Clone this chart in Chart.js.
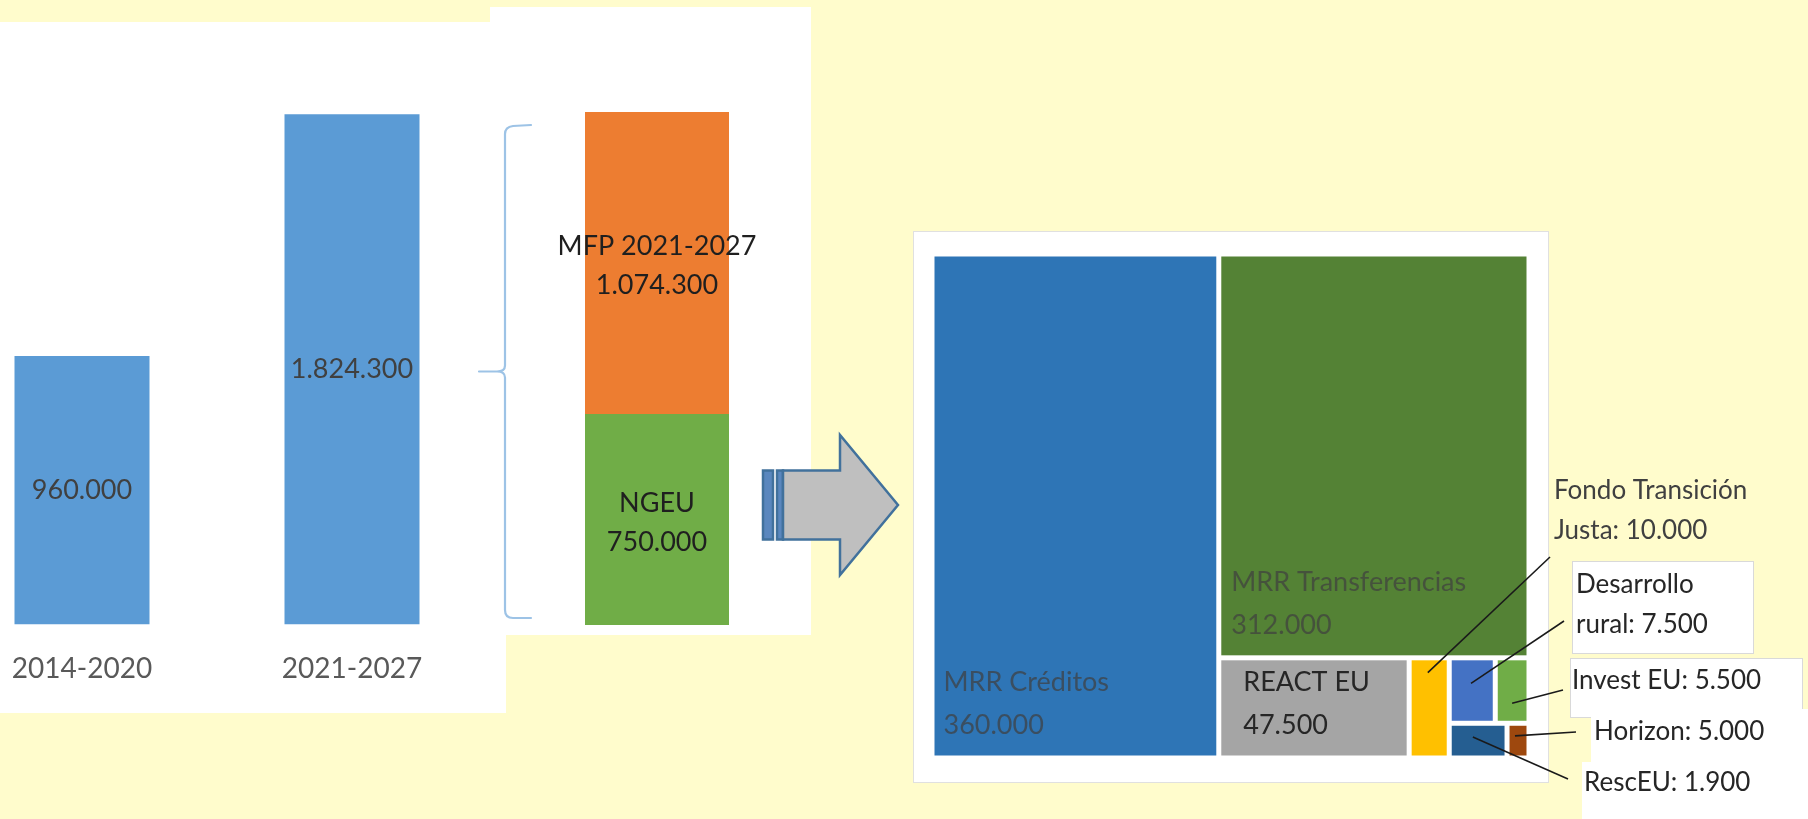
<!DOCTYPE html>
<html>
<head>
<meta charset="utf-8">
<script src="https://cdn.jsdelivr.net/npm/chart.js@4.4.0/dist/chart.umd.min.js"></script>
<style>
  html, body { margin: 0; padding: 0; }
  body { width: 1808px; height: 819px; background: #FFFCCC; position: relative; overflow: hidden; }
  .panel { position: absolute; background: #fff; }
  canvas { position: absolute; }
</style>
</head>
<body>
<div class="panel" style="left:0; top:22px; width:506px; height:691px"></div>
<div class="panel" style="left:490px; top:7px; width:321px; height:628px"></div>
<div class="panel" style="left:913px; top:231px; width:634px; height:550px; border:1px solid #e0e0e0"></div>

<canvas id="periods" width="540" height="700" style="left:-53px; top:22px"></canvas>
<canvas id="split" width="440" height="640" style="left:470px; top:0"></canvas>
<canvas id="ngeu" width="908" height="599" style="left:900px; top:220px"></canvas>

<script>
// totals per budget period
const periodLabels = ['2014-2020', '2021-2027'];
const periodTotals = [960000, 1824300];

// 2021-2027 split
const splitLabels = ['2021-2027'];
const ngeuTotal = [750000];
const mfpTotal = [1074300];

// NGEU breakdown (treemap)
const ngeuParts = ['MRR Créditos', 'MRR Transferencias', 'REACT EU', 'Fondo Transición Justa',
                   'Desarrollo rural', 'Invest EU', 'Horizon', 'RescEU'];
const ngeuPartValues = [360000, 312000, 47500, 10000, 7500, 5500, 5000, 1900];
const ngeuPartColors = ['#2E75B6', '#548235', '#A5A5A5', '#FFC000', '#4472C4', '#70AD47', '#255E91', '#9E480E'];

// how the treemap nests its cells (row = side by side, col = stacked)
const treeShape = ['row', 0, ['col', 1, ['row', 2, 3, ['col', ['row', 4, 5], ['row', 6, 7]]]]];

const fmt = v => String(v).replace(/\B(?=(\d{3})+(?!\d))/g, '.');

function nodeTotal(node) {
    if (typeof node === 'number') return ngeuPartValues[node];
    return node.slice(1).reduce((s, n) => s + nodeTotal(n), 0);
}

function layoutTree(node, x0, y0, x1, y1, out) {
    if (typeof node === 'number') { out[node] = { x0, y0, x1, y1 }; return out; }
    const isRow = node[0] === 'row';
    const sum = nodeTotal(node);
    let pos = isRow ? x0 : y0;
    node.slice(1).forEach(k => {
        const span = nodeTotal(k) / sum * (isRow ? x1 - x0 : y1 - y0);
        if (isRow) layoutTree(k, pos, y0, pos + span, y1, out);
        else layoutTree(k, x0, pos, x1, pos + span, out);
        pos += span;
    });
    return out;
}

const cells = layoutTree(treeShape, 0, 0, 1, 1, []);

// labels written inside the big cells, callouts for the small ones
const insideIndent = [9, 10, 22];
const callouts = [
    { part: 3, to: 3, wrap: 2, tx: 25, ty: 237, from: [21, 303], at: [0.46, 0.13], color: '#404040' },
    { part: 4, to: 4, wrap: 1, tx: 47, ty: 331, from: [35, 367], at: [0.47, 0.38], color: '#262626', box: [43, 307, 224, 399], edge: true },
    { part: 5, to: 5, tx: 43, ty: 427, from: [34, 436], at: [0.5, 0.71], color: '#262626', box: [41, 404, 273, 463], edge: true },
    { part: 6, to: 7, tx: 65, ty: 478, from: [47, 478], at: [0.32, 0.34], color: '#262626', box: [62, 455, 285, 508] },
    { part: 7, to: 6, tx: 55, ty: 529, from: [39, 525], at: [0.4, 0.38], color: '#262626', box: [53, 508, 285, 570] }
];

function drawLines(ctx, lines, x, y, gap) {
    const y0 = y - (lines.length - 1) * gap / 2;
    lines.forEach((t, k) => ctx.fillText(t, x, y0 + k * gap));
}

const periodValueLabels = {
    id: 'periodValueLabels',
    afterDatasetsDraw(chart) {
        const ctx = chart.ctx;
        ctx.save();
        ctx.font = '27px Lato';
        ctx.fillStyle = '#404040';
        ctx.textAlign = 'center';
        ctx.textBaseline = 'middle';
        chart.getDatasetMeta(0).data.forEach((bar, i) => {
            ctx.fillText(fmt(chart.data.datasets[0].data[i]), bar.x, (bar.y + bar.base) / 2);
        });
        ctx.restore();
    }
};

const splitDecor = {
    id: 'splitDecor',
    afterDatasetsDraw(chart) {
        const ctx = chart.ctx;
        const y = chart.scales.y;
        ctx.save();
        ctx.font = '27px Lato';
        ctx.fillStyle = '#1f1f1f';
        ctx.textAlign = 'center';
        ctx.textBaseline = 'middle';
        chart.data.datasets.forEach((ds, di) => {
            chart.getDatasetMeta(di).data.forEach((bar, i) => {
                drawLines(ctx, [ds.label, fmt(ds.data[i])], bar.x, (bar.y + bar.base) / 2 + 3, 39);
            });
        });

        // brace grouping the split back to the 2021-2027 total
        const bar = chart.getDatasetMeta(0).data[0];
        const left = bar.x - bar.width / 2, right = bar.x + bar.width / 2;
        const top = y.getPixelForValue(ngeuTotal[0] + mfpTotal[0]) + 13;
        const bottom = y.getPixelForValue(0) - 7;
        const mid = (top + bottom) / 2;
        const xv = left - 80, xh = left - 54, xt = left - 106;
        ctx.strokeStyle = '#9DC3E6';
        ctx.lineWidth = 2.2;
        ctx.lineCap = 'round';
        ctx.beginPath();
        ctx.moveTo(xh, top);
        ctx.lineTo(xv + 8, top + 1);
        ctx.quadraticCurveTo(xv, top + 2, xv, top + 9);
        ctx.lineTo(xv, mid - 6);
        ctx.quadraticCurveTo(xv, mid, xv - 8, mid);
        ctx.lineTo(xt, mid);
        ctx.moveTo(xv - 8, mid);
        ctx.quadraticCurveTo(xv, mid, xv, mid + 6);
        ctx.lineTo(xv, bottom - 8);
        ctx.quadraticCurveTo(xv, bottom, xv + 8, bottom);
        ctx.lineTo(xh, bottom);
        ctx.stroke();

        // striped arrow pointing to the NGEU breakdown
        const cy = y.getPixelForValue(0) - 120;
        const a = right + 34;
        ctx.lineWidth = 2.5;
        ctx.lineCap = 'butt';
        ctx.lineJoin = 'miter';
        ctx.strokeStyle = '#41719C';
        ctx.fillStyle = '#5A87BE';
        ctx.fillRect(a, cy - 34.5, 10, 69);
        ctx.strokeRect(a, cy - 34.5, 10, 69);
        ctx.fillRect(a + 14, cy - 34.5, 6, 69);
        ctx.strokeRect(a + 14, cy - 34.5, 6, 69);
        ctx.beginPath();
        ctx.moveTo(a + 20, cy - 34.5);
        ctx.lineTo(a + 77, cy - 34.5);
        ctx.lineTo(a + 77, cy - 70);
        ctx.lineTo(a + 135, cy);
        ctx.lineTo(a + 77, cy + 70);
        ctx.lineTo(a + 77, cy + 34.5);
        ctx.lineTo(a + 20, cy + 34.5);
        ctx.closePath();
        ctx.fillStyle = '#BFBFBF';
        ctx.fill();
        ctx.stroke();
        ctx.restore();
    }
};

const treemapCells = {
    id: 'treemapCells',
    afterDatasetsDraw(chart) {
        const ctx = chart.ctx;
        const { x, y } = chart.scales;
        const area = chart.chartArea;
        const rects = cells.map(c => ({
            l: x.getPixelForValue(c.x0) + 2.5, r: x.getPixelForValue(c.x1) - 2.5,
            t: y.getPixelForValue(c.y0) + 2.5, b: y.getPixelForValue(c.y1) - 2.5
        }));
        ctx.save();
        rects.forEach((rc, i) => {
            ctx.fillStyle = ngeuPartColors[i];
            ctx.fillRect(rc.l, rc.t, rc.r - rc.l, rc.b - rc.t);
        });

        ctx.font = '27px Lato';
        ctx.textAlign = 'left';
        ctx.textBaseline = 'middle';
        insideIndent.forEach((ind, i) => {
            const rc = rects[i];
            ctx.fillStyle = i === 2 ? '#262626' : 'rgba(64,64,64,0.72)';
            ctx.fillText(ngeuParts[i], rc.l + ind, rc.b - 73);
            ctx.fillText(fmt(ngeuPartValues[i]), rc.l + ind, rc.b - 30);
        });

        ctx.font = '26px Lato';
        callouts.forEach(co => {
            const ox = area.right, oy = area.top;
            if (co.box) {
                const [bx0, by0, bx1, by1] = co.box;
                ctx.fillStyle = '#fff';
                ctx.fillRect(ox + bx0, oy + by0, bx1 - bx0, by1 - by0);
                if (co.edge) {
                    ctx.strokeStyle = '#d9d9d9';
                    ctx.lineWidth = 1;
                    ctx.strokeRect(ox + bx0 + 0.5, oy + by0 + 0.5, bx1 - bx0, by1 - by0);
                }
            }
            const rc = rects[co.to];
            ctx.strokeStyle = '#1a1a1a';
            ctx.lineWidth = 1.6;
            ctx.beginPath();
            ctx.moveTo(ox + co.from[0], oy + co.from[1]);
            ctx.lineTo(rc.l + co.at[0] * (rc.r - rc.l), rc.t + co.at[1] * (rc.b - rc.t));
            ctx.stroke();

            const words = (ngeuParts[co.part] + ': ' + fmt(ngeuPartValues[co.part])).split(' ');
            const lines = co.wrap ? [words.slice(0, co.wrap).join(' '), words.slice(co.wrap).join(' ')] : [words.join(' ')];
            ctx.fillStyle = co.color;
            lines.forEach((t, k) => ctx.fillText(t, ox + co.tx, oy + co.ty + k * 40));
        });
        ctx.restore();
    }
};

function draw() {
    Chart.defaults.font.family = 'Lato, sans-serif';
    const quiet = { legend: { display: false }, tooltip: { enabled: false } };

    new Chart(document.getElementById('periods'), {
        type: 'bar',
        data: {
            labels: periodLabels,
            datasets: [{ data: periodTotals, backgroundColor: '#5B9BD5', barPercentage: 0.5, categoryPercentage: 1 }]
        },
        options: {
            responsive: false,
            animation: false,
            layout: { padding: { top: 43, bottom: 8, left: 0, right: 0 } },
            plugins: quiet,
            scales: {
                x: {
                    grid: { display: false, drawTicks: false },
                    border: { display: false },
                    ticks: { color: '#595959', font: { size: 28 }, padding: 28 }
                },
                y: { display: false, min: 0, max: 2000000 }
            }
        },
        plugins: [periodValueLabels]
    });

    new Chart(document.getElementById('split'), {
        type: 'bar',
        data: {
            labels: splitLabels,
            datasets: [
                { label: 'NGEU', data: ngeuTotal, backgroundColor: '#70AD47', barPercentage: 0.8, categoryPercentage: 1 },
                { label: 'MFP 2021-2027', data: mfpTotal, backgroundColor: '#ED7D31', barPercentage: 0.8, categoryPercentage: 1 }
            ]
        },
        options: {
            responsive: false,
            animation: false,
            layout: { padding: { top: 62.6, bottom: 15, left: 97, right: 163 } },
            plugins: quiet,
            scales: {
                x: { display: false, stacked: true },
                y: { display: false, stacked: true, min: 0, max: 2000000 }
            }
        },
        plugins: [splitDecor]
    });

    new Chart(document.getElementById('ngeu'), {
        type: 'scatter',
        data: { datasets: [{ data: [] }] },
        options: {
            responsive: false,
            animation: false,
            layout: { padding: { top: 34, bottom: 61, left: 32, right: 279 } },
            plugins: quiet,
            scales: {
                x: { type: 'linear', display: false, min: 0, max: 1 },
                y: { type: 'linear', display: false, min: 0, max: 1, reverse: true }
            }
        },
        plugins: [treemapCells]
    });
}

document.fonts.load('27px Lato').then(draw, draw);
</script>
</body>
</html>
